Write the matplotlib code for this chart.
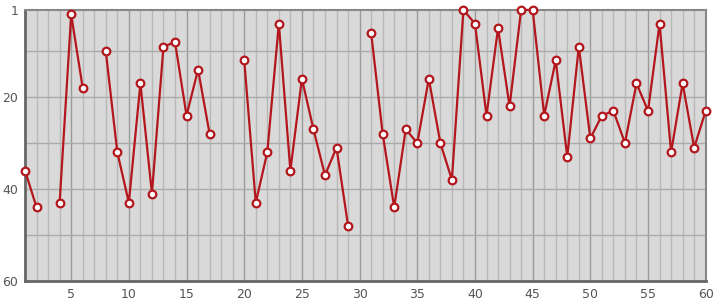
import numpy as np
import matplotlib
matplotlib.use("Agg")
import matplotlib.pyplot as plt

# positions 1..60, gaps where no value was recorded
x_vals = list(range(1, 61))
ranks = [36, 44, None, 43, 2, 18, None, 10, 32, 43,
         17, 41, 9, 8, 24, 14, 28, None, None, 12,
         43, 32, 4, 36, 16, 27, 37, 31, 48, None,
         6, 28, 44, 27, 30, 16, 30, 38, 1, 4,
         24, 5, 22, 1, 1, 24, 12, 33, 9, 29,
         24, 23, 30, 17, 23, 4, 32, 17, 31, 23]
x_ticks = [5, 10, 15, 20, 25, 30, 35, 40, 45, 50, 55, 60]
y_ticks = [1, 20, 40, 60]

y = np.array([np.nan if v is None else v for v in ranks], dtype=float)

fig = plt.figure(figsize=(7.15, 3.0), dpi=100)
ax = fig.add_axes([0.035, 0.064, 0.952, 0.903])
ax.set_facecolor("#d9d9d9")

# grid: every integer on x, darker every 5; every 10 on y
for xv in range(2, 60):
    col = "#9a9a9a" if xv % 5 == 0 else "#b8b8b8"
    ax.axvline(xv, color=col, lw=1.0, zorder=1)
for yv in [10, 20, 30, 40, 50]:
    ax.axhline(yv, color="#ababab", lw=1.0, zorder=1)

ax.plot(x_vals, y, color="#b3161c", lw=1.6, marker="o", markersize=5.5,
        markerfacecolor="white", markeredgecolor="#b3161c", markeredgewidth=1.6,
        zorder=3, clip_on=False)

ax.set_xlim(1, 60)
ax.set_ylim(60, 1)
ax.set_xticks(x_ticks)
ax.set_yticks(y_ticks)
ax.tick_params(length=0, labelsize=9, colors="#555555", pad=5)

for side in ["left", "bottom"]:
    ax.spines[side].set_color("#666666")
    ax.spines[side].set_linewidth(2.0)
for side in ["top", "right"]:
    ax.spines[side].set_color("#888888")
    ax.spines[side].set_linewidth(1.5)

fig.savefig("out.png", dpi=100)
